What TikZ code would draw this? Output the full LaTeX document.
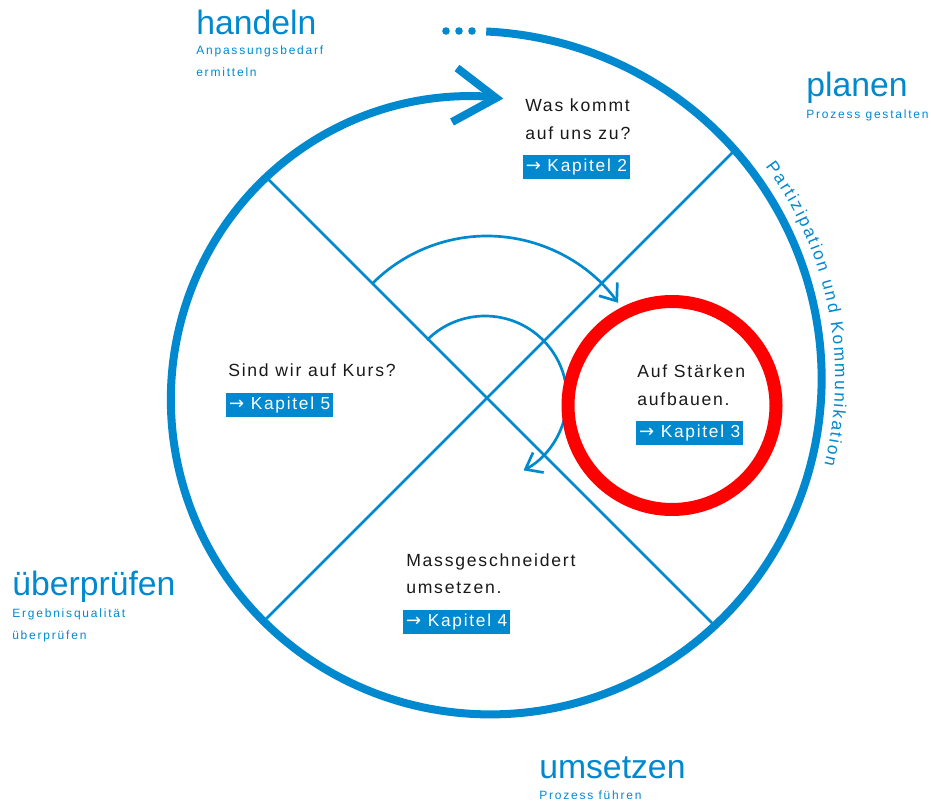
\documentclass[tikz,border=0pt]{standalone}
\usepackage{fontspec}
\setmainfont{Liberation Sans}
\newfontfamily\bodyfont[LetterSpace=10]{Liberation Sans}
\newfontfamily\smallfont[LetterSpace=15]{Liberation Sans}
\newfontfamily\curvefont{Liberation Sans}
\newfontfamily\arrowfont{DejaVu Sans}
\usetikzlibrary{arrows.meta,decorations.text}
\definecolor{cblue}{RGB}{0,137,207}
\definecolor{cred}{RGB}{255,0,0}
\definecolor{ctext}{RGB}{25,25,25}
\newcommand{\kapArrow}{{\arrowfont\fontsize{13.5}{13.5}\selectfont →}}
\tikzset{
  bigline/.style={draw=cblue, line width=6pt},
  thinline/.style={draw=cblue, line width=2pt},
  thinarrow/.style={thinline, -{Straight Barb[length=11pt,width=17pt,line width=2pt]}},
  biglabel/.style={anchor=base west, inner sep=0pt, text=cblue, font=\fontsize{25.3}{25.3}\selectfont},
  sublabel/.style={anchor=base west, inner sep=0pt, text=cblue, font=\smallfont\fontsize{9}{9}\selectfont},
  bodytext/.style={anchor=base west, inner sep=0pt, text=ctext, font=\bodyfont\fontsize{13.2}{13.2}\selectfont},
  kapbox/.style={anchor=north west, fill=cblue, text=white, inner sep=0pt,
    minimum width=80.25pt, minimum height=18pt, font=\bodyfont\fontsize{13}{13}\selectfont},
}
\begin{document}
\begin{tikzpicture}[x=0.75pt,y=-0.75pt]
\useasboundingbox (0,0) rectangle (931,805);

% centres
\coordinate (c) at (487,398);
\coordinate (ci) at (485,398);
\coordinate (ct) at (479,378.3);

% big spiral ring (Archimedean, centre (480,389))
\draw[bigline, line cap=butt] plot[domain=89:-273, samples=240, smooth]
  ({480+(357.75-0.1805556*(90-\x))*cos(\x)}, {389-(357.75-0.1805556*(90-\x))*sin(\x)});
% big open arrow head
\coordinate (tipA) at (457,68);
\coordinate (tip) at (496,98);
\coordinate (tipB) at (452,122);
\draw[bigline, line join=miter, line cap=butt] (tipA) -- (tip) -- (tipB);

% dots
\foreach \i/\xx in {1/446,2/459,3/472}{
  \fill[cblue] (\xx,31) circle[radius=3.8] coordinate (dot\i);
}

% diagonals
\coordinate (nw) at (266,177);
\coordinate (se) at (715,626);
\coordinate (ne) at (735,150);
\coordinate (sw) at (263.5,621.5);
\draw[thinline] (nw) -- (se);
\draw[thinline] (ne) -- (sw);

% inner arcs
\draw[thinarrow] (c) ++(-135:162) coordinate (a1s) arc[start angle=-135, end angle=-36, radius=162];
\draw[thinarrow] (ci) ++(-135:82) coordinate (a2s) arc[start angle=-135, end angle=62, radius=82];

% red circle
\draw[cred, line width=9.75pt] (672,405.5) circle[radius=104];

% curved text
\path[decorate, decoration={text along path,
   text={|\curvefont\fontsize{13}{13}\selectfont|Partizipation und Kommunikation},
   text color=cblue, text align=fit to path}]
  (ct) ++(-36.5:356.1) arc[start angle=-36.5, end angle=14.1, radius=356.1];

% quadrant texts
\node[bodytext] (t2a) at (525,111.7) {Was kommt};
\node[bodytext] (t2b) at (525,139.3) {auf uns zu?};
\node[kapbox] (k2) at (522.7,155) {\kapArrow\ Kapitel 2};

\node[bodytext] (t5a) at (228,377) {Sind wir auf Kurs?};
\node[kapbox] (k5) at (226,393) {\kapArrow\ Kapitel 5};

\node[bodytext] (t3a) at (637,378) {Auf Stärken};
\node[bodytext] (t3b) at (637,405.5) {aufbauen.};
\node[kapbox] (k3) at (636,421) {\kapArrow\ Kapitel 3};

\node[bodytext] (t4a) at (406,566) {Massgeschneidert};
\node[bodytext] (t4b) at (406,593.5) {umsetzen.};
\node[kapbox] (k4) at (403,610) {\kapArrow\ Kapitel 4};

% outer labels
\node[biglabel] (lh) at (196,35) {handeln};
\node[sublabel] (lh1) at (196,55) {Anpassungsbedarf};
\node[sublabel] (lh2) at (196,76.7) {ermitteln};

\node[biglabel] (lp) at (806,96.7) {planen};
\node[sublabel] (lp1) at (806,118.3) {Prozess gestalten};

\node[biglabel] (lu) at (12,595) {überprüfen};
\node[sublabel] (lu1) at (12,617.3) {Ergebnisqualität};
\node[sublabel] (lu2) at (12,639) {überprüfen};

\node[biglabel] (lm) at (539,778) {umsetzen};
\node[sublabel] (lm1) at (539,799.5) {Prozess führen};
\end{tikzpicture}
\end{document}
